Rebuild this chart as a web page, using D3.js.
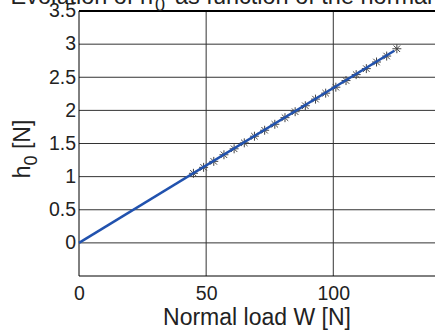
<!DOCTYPE html>
<html><head><meta charset="utf-8">
<script src="https://cdn.jsdelivr.net/npm/d3@7"></script>
<style>body{margin:0;background:#fff}svg{display:block}text{font-family:"Liberation Sans",Arial,sans-serif;fill:#222}</style>
</head><body>
<script>
const loadW = [45,49,53,57,61,65,69,73,77,81,85,89,93,97,101,105,109,113,117,121,125];
const h0 = [1.05,1.14,1.23,1.33,1.42,1.51,1.61,1.70,1.79,1.89,1.98,2.07,2.17,2.26,2.35,2.45,2.54,2.63,2.73,2.82,2.93];
const fitW = [0,124];
const fitH = [0,2.90];
const xTicks = [0,50,100];
const yTicks = [0,0.5,1,1.5,2,2.5,3,3.5];

const W=435,H=332;
const m={l:79,r:435,t:11,b:276};
const svg=d3.select("body").append("svg").attr("width",W).attr("height",H);
const x=d3.scaleLinear().domain([0,140]).range([m.l,m.r]);
const y=d3.scaleLinear().domain([-0.5,3.5]).range([m.b,m.t]);

// grid
svg.append("g").selectAll("line").data(yTicks).join("line")
 .attr("x1",m.l).attr("x2",m.r).attr("y1",d=>y(d)).attr("y2",d=>y(d))
 .attr("stroke",d=>d===3?"#777":"#333").attr("stroke-width",d=>d===3?1.5:1);
svg.append("g").selectAll("line").data(xTicks.filter(d=>d>0)).join("line")
 .attr("y1",m.t).attr("y2",m.b).attr("x1",d=>x(d)).attr("x2",d=>x(d))
 .attr("stroke","#333").attr("stroke-width",1);
// borders
svg.append("line").attr("x1",m.l).attr("x2",m.r).attr("y1",m.t).attr("y2",m.t).attr("stroke","#000").attr("stroke-width",2);
svg.append("line").attr("x1",m.l).attr("x2",m.r).attr("y1",m.b).attr("y2",m.b).attr("stroke","#000").attr("stroke-width",1);
svg.append("line").attr("x1",m.l).attr("x2",m.l).attr("y1",m.t).attr("y2",m.b).attr("stroke","#000").attr("stroke-width",1);

// axes labels
const xa=svg.append("g").attr("transform",`translate(0,${m.b})`).call(d3.axisBottom(x).tickValues(xTicks).tickSize(0).tickPadding(9).tickFormat(d3.format("d")));
xa.select(".domain").remove();
xa.selectAll("text").attr("font-size",19.5).attr("dy","0.75em").style("font-family","Liberation Sans, Arial");
const ya=svg.append("g").attr("transform",`translate(${m.l},0)`).call(d3.axisLeft(y).tickValues(yTicks).tickSize(0).tickPadding(3).tickFormat(d=>String(d)));
ya.select(".domain").remove();
ya.selectAll("text").attr("font-size",19.5).attr("dy","0.3em").style("font-family","Liberation Sans, Arial");

// stars
const star=(cx,cy,r)=>{const a=r*0.72;return `M${cx-r},${cy}L${cx+r},${cy}M${cx},${cy-r}L${cx},${cy+r}M${cx-a},${cy-a}L${cx+a},${cy+a}M${cx-a},${cy+a}L${cx+a},${cy-a}`;};
svg.append("g").selectAll("path").data(loadW).join("path")
 .attr("d",(d,i)=>star(x(d),y(h0[i]),4.5))
 .attr("stroke","#444").attr("stroke-width",1).attr("fill","none");
// line
svg.append("path").datum(fitW.map((d,i)=>[d,fitH[i]]))
 .attr("d",d3.line().x(d=>x(d[0])).y(d=>y(d[1])))
 .attr("stroke","#2152ae").attr("stroke-width",2.5).attr("fill","none");

// axis titles
svg.append("text").attr("x",(m.l+m.r)/2).attr("y",325).attr("text-anchor","middle").attr("font-size",23).text("Normal load W  [N]");
const yl=svg.append("text").attr("transform","translate(30,149) rotate(-90)").attr("text-anchor","middle").attr("font-size",23);
yl.append("tspan").text("h");
yl.append("tspan").attr("dy",7).attr("font-size",18).text("0");
yl.append("tspan").attr("dy",-7).text(" [N]");
// title (clipped at top like the reference)
svg.append("text").attr("x",153).attr("y",4).attr("text-anchor","end").attr("font-size",23.5).text("Evolution of  h");
svg.append("text").attr("x",155).attr("y",11).attr("font-size",18).text("0");
svg.append("text").attr("x",175).attr("y",4).attr("font-size",23.5).text("as function of the normal load W");
</script>
</body></html>
